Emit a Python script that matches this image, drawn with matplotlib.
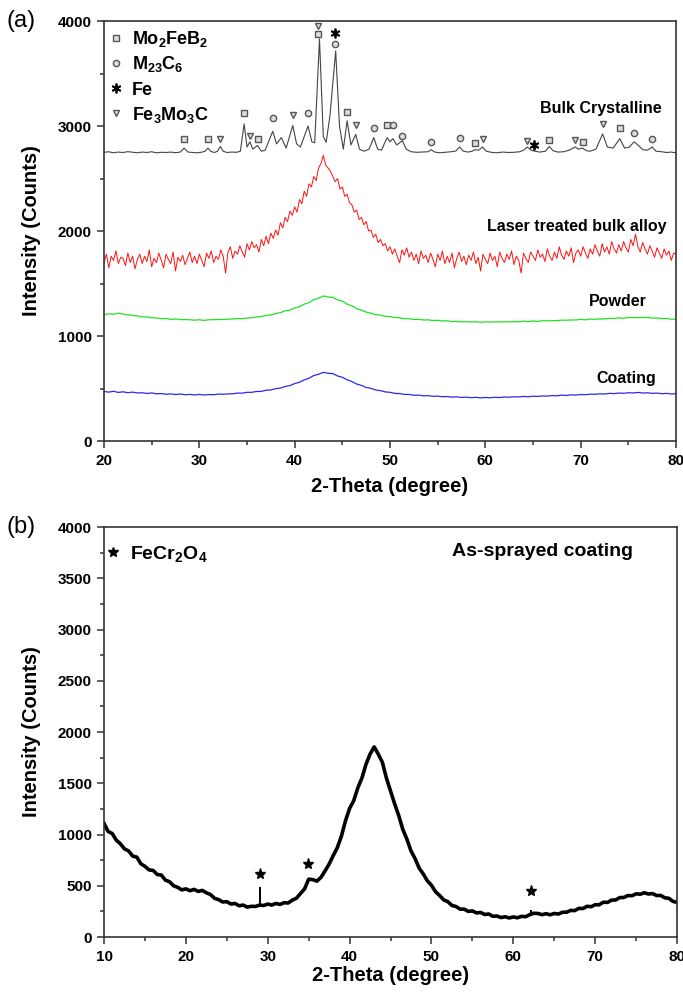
import numpy as np
import matplotlib.pyplot as plt
from matplotlib.ticker import MultipleLocator

plt.rcParams['font.family'] = ['Liberation Sans', 'DejaVu Sans']
plt.rcParams['font.weight'] = 'bold'
plt.rcParams['axes.labelweight'] = 'bold'
plt.rcParams['mathtext.fontset'] = 'custom'
plt.rcParams['mathtext.rm'] = 'Liberation Sans:bold'
plt.rcParams['mathtext.bf'] = 'Liberation Sans:bold'
plt.rcParams['mathtext.it'] = 'Liberation Sans:bold'

bulk_theta = [20.0, 20.5, 21.0, 21.5, 22.0, 22.5, 23.0, 23.5, 24.0, 24.5, 25.0, 25.5,
              26.0, 26.5, 27.0, 27.5, 28.0, 28.4, 28.8, 29.3, 29.8, 30.3, 30.6, 30.9,
              31.2, 31.6, 31.9, 32.2, 32.5, 32.9, 33.4, 33.9, 34.3, 34.7, 35.0, 35.3,
              35.6, 36.1, 36.5, 36.9, 37.7, 38.1, 38.6, 39.1, 39.8, 40.2, 40.6, 41.4,
              41.8, 42.1, 42.6, 43.0, 43.3, 43.7, 44.3, 44.7, 45.1, 45.5, 45.9, 46.4,
              46.8, 47.3, 47.8, 48.3, 48.7, 49.1, 49.7, 50.0, 50.3, 50.7, 51.3, 51.7,
              52.2, 52.8, 53.4, 54.0, 54.3, 54.7, 55.2, 55.8, 56.4, 56.9, 57.3, 57.7,
              58.2, 58.6, 58.9, 59.3, 59.7, 60.1, 60.6, 61.2, 61.8, 62.4, 63.0, 63.6,
              64.0, 64.4, 64.8, 65.2, 65.7, 66.3, 66.7, 67.1, 67.6, 68.2, 68.8, 69.4,
              69.8, 70.2, 70.6, 71.0, 71.6, 72.3, 72.8, 73.4, 74.1, 74.6, 75.1, 75.6,
              76.0, 76.5, 77.0, 77.5, 77.9, 78.5, 79.0, 79.5, 80.0]
bulk_counts = [2750, 2755, 2745, 2752, 2748, 2756, 2750, 2745, 2752, 2748, 2755, 2745,
               2750, 2748, 2752, 2746, 2752, 2790, 2752, 2748, 2745, 2752, 2760, 2790,
               2758, 2748, 2760, 2805, 2760, 2748, 2752, 2750, 2760, 3020, 2800, 2850,
               2780, 2815, 2760, 2770, 2950, 2830, 2890, 2790, 3005, 2830, 2800, 3000,
               2850, 2840, 3830, 2900, 2845, 3100, 3715, 3000, 2780, 3050, 2820, 2920,
               2780, 2760, 2780, 2890, 2780, 2770, 2890, 2850, 2880, 2820, 2860, 2780,
               2755, 2750, 2752, 2755, 2775, 2752, 2745, 2750, 2755, 2762, 2800, 2760,
               2752, 2760, 2775, 2770, 2800, 2760, 2750, 2745, 2752, 2748, 2750, 2755,
               2770, 2800, 2770, 2760, 2752, 2760, 2805, 2765, 2752, 2755, 2770, 2800,
               2780, 2790, 2765, 2760, 2780, 2925, 2800, 2790, 2880, 2790, 2800, 2850,
               2820, 2775, 2770, 2800, 2760, 2755, 2748, 2752, 2745]

# laser treated bulk alloy, 0.25 degree step from 20 to 80
laser_theta = np.arange(20, 80.001, 0.25)
laser_counts = [1700, 1780, 1650, 1760, 1720, 1810, 1690, 1750,
                1740, 1670, 1790, 1700, 1760, 1640, 1730, 1780,
                1690, 1760, 1710, 1820, 1660, 1740, 1700, 1790,
                1720, 1650, 1780, 1730, 1690, 1800, 1620, 1750,
                1710, 1770, 1680, 1740, 1800, 1700, 1760, 1690,
                1780, 1720, 1660, 1790, 1740, 1810, 1700, 1760,
                1730, 1820, 1760, 1600, 1800, 1850, 1740, 1810,
                1780, 1860, 1800, 1750, 1880, 1820, 1900, 1840,
                1870, 1800, 1920, 1860, 1950, 1880, 1980, 1930,
                2010, 1960, 2080, 2030, 2130, 2090, 2190, 2150,
                2230, 2180, 2300, 2260, 2380, 2330, 2450, 2420,
                2520, 2480, 2600, 2640, 2720, 2630, 2600, 2570,
                2520, 2470, 2500, 2400, 2420, 2330, 2350, 2270,
                2250, 2180, 2200, 2110, 2130, 2060, 2090, 2000,
                2010, 1940, 1970, 1890, 1920, 1860, 1880, 1810,
                1850, 1780, 1830, 1760, 1700, 1820, 1770, 1840,
                1750, 1800, 1720, 1780, 1690, 1810, 1740, 1770,
                1700, 1790, 1730, 1660, 1780, 1720, 1810, 1690,
                1760, 1700, 1790, 1650, 1740, 1800, 1710, 1760,
                1680, 1770, 1720, 1800, 1690, 1750, 1620, 1780,
                1730, 1690, 1790, 1720, 1760, 1660, 1800, 1740,
                1700, 1780, 1730, 1810, 1680, 1760, 1720, 1600,
                1790, 1740, 1700, 1800, 1760, 1720, 1820, 1750,
                1780, 1710, 1830, 1760, 1720, 1800, 1740, 1850,
                1770, 1730, 1810, 1760, 1840, 1700, 1790, 1820,
                1760, 1850, 1790, 1740, 1830, 1780, 1870, 1810,
                1760, 1880, 1800, 1850, 1780, 1900, 1830, 1790,
                1870, 1810, 1900, 1840, 1800, 1920, 1860, 1970,
                1850, 1800, 1890, 1830, 1780, 1860, 1810, 1750,
                1840, 1790, 1740, 1830, 1770, 1810, 1720, 1790,
                1780]

# powder and coating, 0.5 degree step from 20 to 80
amorph_theta = np.arange(20, 80.001, 0.5)
powder_counts = [1203, 1212, 1208, 1218, 1209, 1203, 1196, 1192, 1183, 1181,
                 1174, 1172, 1166, 1167, 1158, 1163, 1156, 1157, 1155, 1151,
                 1156, 1149, 1155, 1156, 1157, 1158, 1161, 1162, 1167, 1166,
                 1172, 1174, 1182, 1186, 1197, 1201, 1214, 1223, 1240, 1248,
                 1267, 1280, 1303, 1318, 1347, 1360, 1382, 1372, 1368, 1343,
                 1333, 1303, 1288, 1260, 1247, 1228, 1217, 1203, 1199, 1188,
                 1185, 1176, 1174, 1166, 1165, 1158, 1159, 1153, 1154, 1148,
                 1150, 1143, 1145, 1138, 1140, 1135, 1137, 1134, 1136, 1131,
                 1134, 1133, 1135, 1134, 1136, 1135, 1137, 1136, 1142, 1137,
                 1144, 1139, 1146, 1144, 1147, 1146, 1152, 1150, 1153, 1153,
                 1159, 1154, 1162, 1160, 1163, 1163, 1169, 1166, 1174, 1168,
                 1177, 1175, 1176, 1176, 1178, 1170, 1172, 1166, 1167, 1160,
                 1162]
coating_counts = [472, 466, 474, 463, 469, 460, 466, 458, 460, 453,
                  458, 450, 452, 446, 449, 443, 448, 441, 444, 439,
                  444, 438, 443, 441, 447, 446, 449, 450, 457, 456,
                  464, 464, 472, 473, 484, 486, 499, 504, 520, 528,
                  547, 560, 582, 598, 624, 636, 654, 646, 642, 620,
                  607, 583, 567, 543, 530, 510, 502, 486, 480, 468,
                  464, 454, 452, 444, 444, 436, 437, 431, 432, 426,
                  428, 422, 424, 418, 421, 415, 418, 413, 416, 411,
                  415, 412, 417, 414, 420, 417, 422, 420, 425, 422,
                  427, 425, 430, 428, 433, 431, 437, 434, 440, 438,
                  443, 441, 447, 445, 450, 448, 454, 452, 457, 455,
                  460, 458, 463, 457, 460, 454, 457, 451, 454, 448,
                  451]

# phase markers on the bulk pattern
sq_theta = [28.4, 30.9, 34.7, 36.1, 42.4, 45.5, 49.7, 58.9, 66.7, 70.2, 74.1]
sq_counts = [2879, 2879, 3123, 2879, 3874, 3136, 3010, 2841, 2863, 2846, 2977]
circ_theta = [37.7, 41.4, 44.2, 48.3, 50.3, 51.3, 54.3, 57.3, 75.6, 77.5]
circ_counts = [3076, 3120, 3785, 2984, 3010, 2904, 2850, 2888, 2936, 2879]
fe_theta = [44.2, 65.1]
fe_counts = [3890, 2815]
tri_theta = [32.2, 35.3, 39.8, 42.4, 46.4, 59.7, 64.4, 69.4, 72.3]
tri_counts = [2879, 2904, 3101, 3953, 3012, 2872, 2857, 2863, 3022]

legend_names = [r'Mo$_\mathbf{2}$FeB$_\mathbf{2}$', r'M$_\mathbf{23}$C$_\mathbf{6}$',
                'Fe', r'Fe$_\mathbf{3}$Mo$_\mathbf{3}$C']

# ---- panel (b): as-sprayed coating, 0.5 degree step from 10 to 80
spray_theta = np.arange(10, 80.001, 0.5)
spray_counts = [1110, 1030, 1010, 945, 910, 860, 840, 790, 780, 715,
                690, 655, 650, 610, 605, 555, 540, 500, 485, 460,
                470, 452, 465, 445, 455, 432, 415, 378, 365, 342,
                345, 322, 328, 305, 312, 292, 300, 298, 312, 308,
                322, 312, 328, 318, 335, 332, 360, 378, 425, 470,
                565, 560, 545, 582, 645, 712, 795, 872, 985, 1135,
                1255, 1330, 1455, 1550, 1685, 1785, 1855, 1785, 1705, 1550,
                1425, 1300, 1185, 1050, 955, 840, 765, 672, 615, 548,
                505, 442, 405, 362, 345, 308, 298, 272, 272, 250,
                255, 235, 240, 220, 225, 202, 205, 190, 198, 186,
                196, 188, 202, 198, 218, 232, 230, 218, 228, 217,
                230, 224, 242, 242, 260, 258, 280, 278, 300, 296,
                315, 315, 340, 338, 360, 362, 385, 386, 405, 403,
                422, 418, 432, 420, 424, 405, 406, 383, 378, 348,
                338]
spike_theta = [29.1, 62.2]
spike_base = [312, 205]
spike_top = [490, 262]
oxide_theta = [29.1, 34.9, 62.2]
oxide_counts = [615, 712, 445]


def style_axes(ax, xlim, ymaj, ymin, xpad):
    ax.set_xlim(*xlim)
    ax.set_ylim(0, 4000)
    ax.xaxis.set_major_locator(MultipleLocator(10))
    ax.xaxis.set_minor_locator(MultipleLocator(5))
    ax.yaxis.set_major_locator(MultipleLocator(ymaj))
    ax.yaxis.set_minor_locator(MultipleLocator(ymin))
    ax.tick_params(which='both', direction='out', top=False, right=False,
                   width=1.1, color='#333333')
    ax.tick_params(which='major', length=5, labelsize=11, pad=4)
    ax.tick_params(which='minor', length=3)
    for s in ax.spines.values():
        s.set_linewidth(1.2)
        s.set_color('#333333')
    ax.set_xlabel('2-Theta (degree)', fontsize=14.5, labelpad=xpad)
    ax.set_ylabel('Intensity (Counts)', fontsize=14.5, labelpad=12)


fig = plt.figure(figsize=(6.83, 9.92), dpi=100)
ax1 = fig.add_axes([0.1523, 0.5554, 0.8375, 0.4234])
ax2 = fig.add_axes([0.1523, 0.0554, 0.839, 0.4133])

# panel (a)
ax1.plot(bulk_theta, bulk_counts, color='#444444', lw=0.8)
ax1.plot(laser_theta, laser_counts, color='#ff1010', lw=0.7)
ax1.plot(amorph_theta, powder_counts, color='#22e022', lw=0.9)
ax1.plot(amorph_theta, coating_counts, color='#2a2aee', lw=0.9)

mk = dict(ls='none', mfc='#dddddd', mec='#555555', mew=1.0, ms=4.5)
ax1.plot(sq_theta, sq_counts, marker='s', **mk)
ax1.plot(circ_theta, circ_counts, marker='o', **mk)
ax1.plot(tri_theta, tri_counts, marker='v', **mk)
ax1.plot(fe_theta, fe_counts, ls='none', marker=(6, 2, 0), color='black', ms=7, mew=1.3)

# legend drawn by hand, top left
leg_markers = ['s', 'o', (6, 2, 0), 'v']
for i, (name, m) in enumerate(zip(legend_names, leg_markers)):
    yy = 0.960 - i * 0.06
    if i == 2:
        ax1.plot(0.021, yy, transform=ax1.transAxes, marker=m, color='black', ms=7, mew=1.3)
    else:
        ax1.plot(0.021, yy, transform=ax1.transAxes, marker=m, **mk)
    ax1.text(0.049, yy - 0.015, name, transform=ax1.transAxes, fontsize=13,
             va='baseline', ha='left')

ax1.text(78.5, 3165, 'Bulk Crystalline', fontsize=11.5, ha='right', va='center')
ax1.text(79.0, 2045, 'Laser treated bulk alloy', fontsize=11.5, ha='right', va='center')
ax1.text(76.9, 1329, 'Powder', fontsize=11.5, ha='right', va='center')
ax1.text(77.9, 598, 'Coating', fontsize=11.5, ha='right', va='center')
style_axes(ax1, (20, 80), 1000, 500, 7)

# panel (b)
ax2.plot(spray_theta, spray_counts, color='black', lw=2.6)
ax2.vlines(spike_theta, spike_base, spike_top, color='black', lw=1.4)
ax2.plot(oxide_theta, oxide_counts, ls='none', marker='*', color='black', ms=8)
ax2.plot(11.1, 3760, marker='*', color='black', ms=7)
ax2.text(13.2, 3690, r'FeCr$_\mathbf{2}$O$_\mathbf{4}$', fontsize=14, va='baseline', ha='left')
ax2.text(74.6, 3760, 'As-sprayed coating', fontsize=14, va='center', ha='right')
style_axes(ax2, (10, 80), 500, 250, 2)

fig.text(0.031, 1 - 21 / 992, '(a)', fontsize=17, fontweight='normal', ha='center', va='center')
fig.text(0.031, 1 - 527 / 992, '(b)', fontsize=17, fontweight='normal', ha='center', va='center')

fig.savefig('out.png', dpi=100)
